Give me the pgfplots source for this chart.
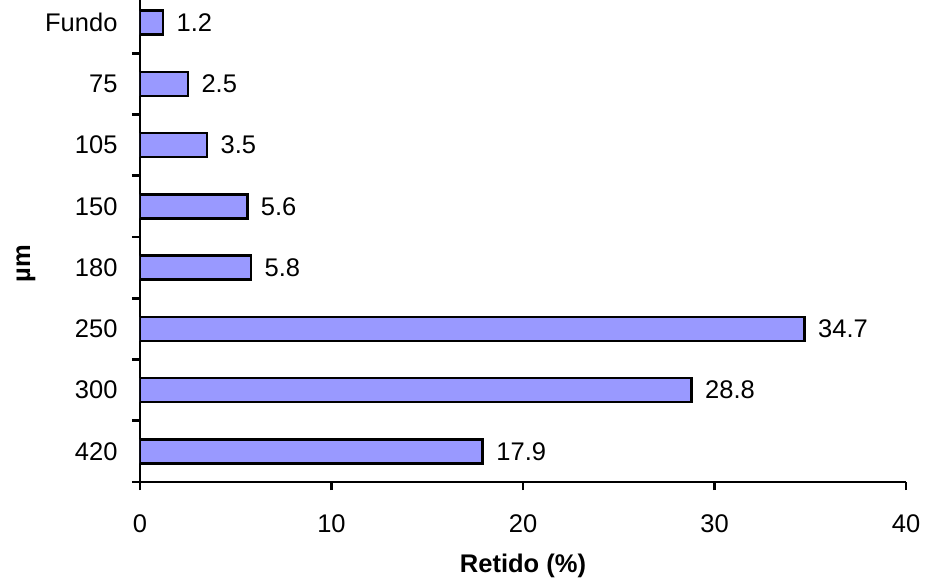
\documentclass[border=0pt]{standalone}
\usepackage{fontspec}
\setmainfont{Liberation Sans}
\usepackage{pgfplots}
\pgfplotsset{compat=1.18}
\definecolor{barblue}{HTML}{9999FF}
\newcommand{\chartfont}{\fontsize{25.5}{29}\selectfont}
\begin{document}
\begin{tikzpicture}
\path[use as bounding box] (-140pt,-100pt) rectangle (788pt,482pt);
\begin{axis}[
    at={(0pt,0pt)}, anchor=south west,
    scale only axis,
    width=766pt, height=490pt,
    xbar, bar width=24pt,
    xmin=0, xmax=40,
    ymin=-0.5, ymax=7.5,
    xtick={0,10,20,30,40},
    ytick={-0.5,0.5,1.5,2.5,3.5,4.5,5.5,6.5,7.5},
    yticklabels={},
    extra y ticks={0,1,2,3,4,5,6,7},
    extra y tick labels={420,300,250,180,150,105,75,Fundo},
    extra y tick style={tick style={draw=none}},
    axis lines=left,
    axis line style={-, line width=2.8pt},
    tick align=outside,
    every tick/.style={black, line width=2.6pt},
    major tick length=8pt,
    /pgf/number format/assume math mode=true,
    tick label style={font=\chartfont},
    xticklabel style={yshift=-21pt},
    yticklabel style={xshift=-11pt},
    xlabel={\textbf{Retido (\%)}},
    ylabel={\textbf{µm}},
    label style={font=\chartfont},
    xlabel style={at={(axis description cs:0.5,-0.171)}, anchor=center},
    ylabel style={at={(axis description cs:-0.149,0.445)}, anchor=center},
    nodes near coords,
    nodes near coords style={font=\chartfont, anchor=west, xshift=9pt,
        /pgf/number format/.cd, fixed, precision=1, fixed zerofill},
]
\addplot[fill=barblue, draw=black, line width=2.6pt] coordinates {
    (17.9,0) (28.8,1) (34.7,2) (5.8,3) (5.6,4) (3.5,5) (2.5,6) (1.2,7)
};
\end{axis}
\end{tikzpicture}
\end{document}
